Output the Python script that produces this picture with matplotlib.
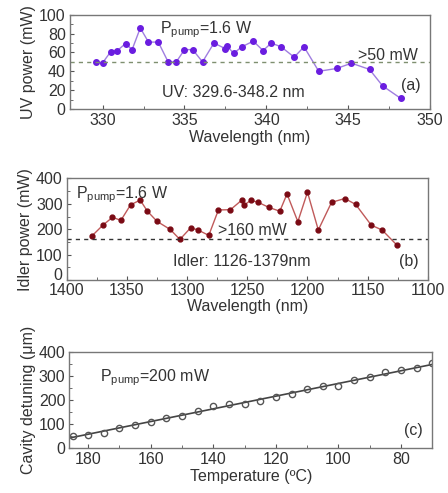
import numpy as np
import matplotlib.pyplot as plt
import matplotlib.transforms as mtransforms

plt.rcParams['font.family'] = ['Liberation Sans', 'DejaVu Sans']
plt.rcParams['mathtext.fontset'] = 'custom'
plt.rcParams['mathtext.rm'] = 'Liberation Sans'
plt.rcParams['mathtext.it'] = 'Liberation Sans:italic'
plt.rcParams['font.size'] = 11.5
plt.rcParams['text.color'] = '#333333'
plt.rcParams['axes.labelcolor'] = '#333333'
plt.rcParams['xtick.color'] = '#555555'
plt.rcParams['ytick.color'] = '#555555'
plt.rcParams['xtick.labelcolor'] = '#333333'
plt.rcParams['ytick.labelcolor'] = '#333333'

# (a) UV output
uv_wl = [329.6, 330.0, 330.5, 330.9, 331.4, 331.8, 332.3, 332.8, 333.4, 334.0,
         334.5, 335.0, 335.5, 336.1, 336.8, 337.5, 337.6, 338.0, 338.5, 339.2,
         339.8, 340.3, 340.9, 341.7, 342.3, 343.2, 344.3, 345.2, 346.3, 347.1, 348.2]
uv_pw = [50, 49, 61, 62, 69.5, 63, 86, 71, 71, 50,
         50, 63, 63, 50, 70, 64, 67, 59, 66, 72,
         62, 70, 66, 55, 66, 40, 43, 48.6, 42, 24.5, 11.3]
uv_thr = 50

# (b) idler output
id_wl = [1379, 1370, 1362, 1355, 1347, 1339, 1333, 1325, 1314, 1306,
         1297, 1291, 1282, 1274, 1264, 1254, 1253, 1247, 1241, 1232,
         1223, 1217, 1208, 1200, 1191, 1180, 1169, 1160, 1147, 1138, 1126]
id_pw = [174, 216, 247, 235, 296, 315, 271, 231, 199, 160,
         206, 197, 176, 276, 277, 317, 294, 314, 306, 286,
         271, 339, 230, 346, 197, 306, 321, 298, 216, 197, 139]
id_thr = 160

# (c) cavity detuning vs temperature
temp = [185, 180, 175, 170, 165, 160, 155, 150, 145, 140, 135, 130,
        125, 120, 115, 110, 105, 100, 95, 90, 85, 80, 75, 70]
detune = [52, 57, 65, 86, 96, 111, 126, 136, 155, 176, 183, 186,
          197, 212, 226, 247, 258, 258, 283, 298, 319, 325, 336, 354]

fig = plt.figure(figsize=(4.48, 4.93), dpi=100)

def style(ax):
    for s in ax.spines.values():
        s.set_color('#777777')
        s.set_linewidth(1.0)
    ax.tick_params(direction='in', length=3, width=0.8, which='major', pad=3)
    ax.tick_params(direction='in', length=2, width=0.6, which='minor')
    ax.tick_params(top=False, right=False, which='both')

# panel a
ax1 = fig.add_axes([0.156, 0.779, 0.804, 0.191])
ax1.plot(uv_wl, uv_pw, '-', color='#a07ee0', lw=1.0)
ax1.plot(uv_wl, uv_pw, 'o', color='#6a1de0', ms=4, mec='#6a1de0')
ax1.axhline(uv_thr, color='#7f8f70', ls=(0, (3, 3)), lw=1.0)
ax1.set_xlim(328, 350)
ax1.set_ylim(0, 100)
ax1.set_xticks([330, 335, 340, 345, 350])
ax1.set_xticks(np.arange(330, 350, 2.5), minor=True)
ax1.set_yticks([0, 20, 40, 60, 80, 100])
ax1.set_yticks(np.arange(0, 100, 10), minor=True)
ax1.set_xlabel('Wavelength (nm)', labelpad=1)
ax1.set_ylabel('UV power (mW)', labelpad=2)
ax1.text(0.25, 0.8, r'P$_{\mathrm{pump}}$=1.6 W', transform=ax1.transAxes)
ax1.text(0.965, 0.52, '>50 mW', transform=ax1.transAxes, ha='right')
ax1.text(0.255, 0.13, 'UV: 329.6-348.2 nm', transform=ax1.transAxes)
ax1.text(0.975, 0.2, '(a)', transform=ax1.transAxes, ha='right')
style(ax1)

# panel b
ax2 = fig.add_axes([0.149, 0.432, 0.806, 0.206])
ax2.plot(id_wl, id_pw, '-', color='#c05a5a', lw=1.0)
ax2.plot(id_wl, id_pw, 'o', color='#7a0a14', ms=3.5)
ax2.axhline(id_thr, color='#333333', ls=(0, (3, 3)), lw=1.0)
ax2.set_xlim(1400, 1100)
ax2.set_ylim(0, 400)
ax2.set_xticks([1400, 1350, 1300, 1250, 1200, 1150, 1100])
ax2.set_xticks(np.arange(1100, 1400, 25), minor=True)
ax2.set_yticks([0, 100, 200, 300, 400])
ax2.set_yticks(np.arange(0, 400, 50), minor=True)
ax2.set_xlabel('Wavelength (nm)', labelpad=1)
ax2.set_ylabel('Idler power (mW)', labelpad=2)
ax2.text(0.025, 0.8, r'P$_{\mathrm{pump}}$=1.6 W', transform=ax2.transAxes)
ax2.text(0.42, 0.44, '>160 mW', transform=ax2.transAxes)
ax2.text(0.295, 0.14, 'Idler: 1126-1379nm', transform=ax2.transAxes)
ax2.text(0.975, 0.14, '(b)', transform=ax2.transAxes, ha='right')
style(ax2)
ax2.tick_params(axis='x', which='major', pad=2)
# lift the "0" a little so it clears the 1400 label
lbl0 = ax2.get_yticklabels()[0]
lbl0.set_transform(lbl0.get_transform() + mtransforms.ScaledTranslation(0, 4 / 72, fig.dpi_scale_trans))

# panel c
ax3 = fig.add_axes([0.155, 0.091, 0.810, 0.194])
fit = np.polyfit(temp, detune, 1)
tx = np.array([186, 70])
ax3.plot(tx, np.polyval(fit, tx), '-', color='#444444', lw=1.2)
ax3.plot(temp, detune, 'o', mfc='none', mec='#555555', ms=4.5, mew=1.0)
ax3.set_xlim(186, 70)
ax3.set_ylim(0, 400)
ax3.set_xticks([180, 160, 140, 120, 100, 80])
ax3.set_xticks(np.arange(70, 190, 10), minor=True)
ax3.set_yticks([0, 100, 200, 300, 400])
ax3.set_yticks(np.arange(0, 400, 50), minor=True)
ax3.set_xlabel('Temperature (ºC)', labelpad=1)
ax3.set_ylabel('Cavity detuning (μm)', labelpad=2)
ax3.text(0.085, 0.7, r'P$_{\mathrm{pump}}$=200 mW', transform=ax3.transAxes)
ax3.text(0.975, 0.14, '(c)', transform=ax3.transAxes, ha='right')
style(ax3)

fig.savefig('out.png', dpi=100)
